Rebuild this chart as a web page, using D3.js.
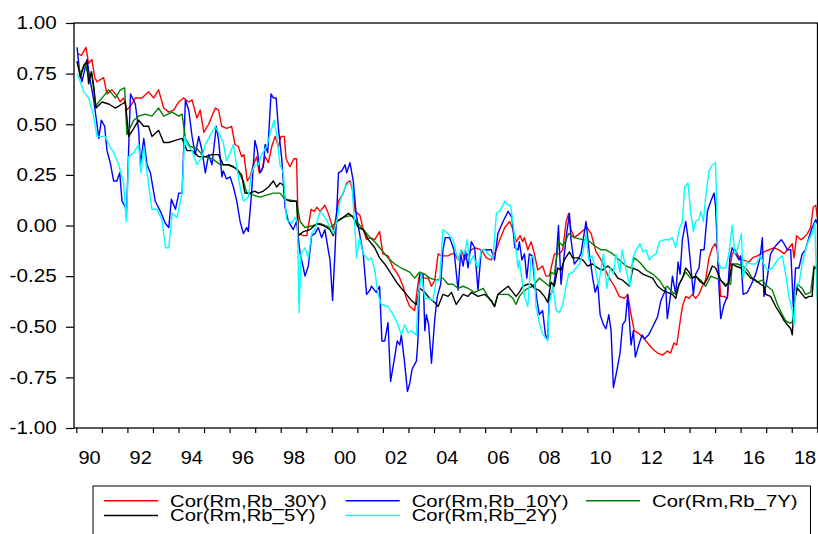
<!DOCTYPE html>
<html>
<head>
<meta charset="utf-8">
<script src="https://cdn.jsdelivr.net/npm/d3@7"></script>
<style>
    body { margin: 0; background: #fff; }
    svg { display: block; }
    text { font-family: "Liberation Sans", Arial, sans-serif; fill: #000; }
</style>
</head>
<body>
<div id="chart"></div>
<script>
// Rolling correlations as [year, value]
var cor30 = [[1990.03,0.85],[1990.2,0.84],[1990.38,0.88],[1990.48,0.80],[1990.61,0.82],[1990.72,0.73],[1990.81,0.71],[1991.07,0.73],[1991.2,0.65],[1991.4,0.67],[1991.59,0.64],[1991.72,0.61],[1991.85,0.63],[1991.98,0.57],[1992.12,0.59],[1992.31,0.63],[1992.57,0.63],[1992.83,0.66],[1993.03,0.63],[1993.22,0.67],[1993.42,0.58],[1993.62,0.56],[1993.81,0.57],[1994.01,0.61],[1994.2,0.63],[1994.4,0.61],[1994.53,0.62],[1994.72,0.53],[1994.85,0.57],[1994.99,0.46],[1995.18,0.50],[1995.44,0.58],[1995.57,0.57],[1995.69,0.49],[1995.89,0.48],[1996.08,0.49],[1996.21,0.40],[1996.34,0.39],[1996.47,0.34],[1996.56,0.35],[1996.69,0.22],[1996.8,0.24],[1996.93,0.30],[1997.06,0.34],[1997.16,0.26],[1997.25,0.27],[1997.39,0.34],[1997.52,0.31],[1997.65,0.39],[1997.78,0.44],[1997.91,0.39],[1998.01,0.44],[1998.14,0.44],[1998.21,0.33],[1998.36,0.29],[1998.52,0.33],[1998.62,0.33],[1998.69,-0.04],[1998.89,-0.05],[1999.02,-0.05],[1999.19,0.08],[1999.32,0.07],[1999.41,0.09],[1999.54,0.07],[1999.73,0.10],[1999.86,0.06],[2000.06,-0.02],[2000.13,0.02],[2000.26,0.12],[2000.45,0.16],[2000.58,0.21],[2000.71,0.22],[2000.82,0.17],[2000.91,0.07],[2001.1,0.05],[2001.23,-0.02],[2001.36,-0.07],[2001.5,-0.06],[2001.68,-0.07],[2001.87,-0.03],[2002.0,-0.14],[2002.2,-0.15],[2002.4,-0.21],[2002.53,-0.23],[2002.66,-0.26],[2002.79,-0.30],[2002.92,-0.36],[2003.05,-0.40],[2003.24,-0.42],[2003.37,-0.29],[2003.44,-0.24],[2003.57,-0.26],[2003.77,-0.26],[2003.9,-0.30],[2004.03,-0.27],[2004.16,-0.14],[2004.29,-0.15],[2004.55,-0.15],[2004.68,-0.14],[2004.81,-0.14],[2004.94,-0.17],[2005.07,-0.12],[2005.2,-0.17],[2005.33,-0.14],[2005.46,-0.12],[2005.59,-0.11],[2005.85,-0.12],[2006.05,-0.16],[2006.24,-0.17],[2006.44,-0.12],[2006.57,-0.07],[2006.77,-0.01],[2006.96,0.02],[2007.09,-0.02],[2007.22,-0.08],[2007.37,-0.05],[2007.47,-0.08],[2007.54,-0.06],[2007.67,-0.12],[2007.8,-0.08],[2007.93,-0.14],[2008.06,-0.22],[2008.25,-0.20],[2008.38,-0.25],[2008.51,-0.25],[2008.71,-0.14],[2008.91,-0.14],[2009.04,-0.12],[2009.17,0.02],[2009.27,0.06],[2009.36,-0.02],[2009.49,-0.06],[2009.69,-0.04],[2009.88,-0.02],[2009.99,-0.01],[2010.15,-0.04],[2010.34,-0.13],[2010.54,-0.17],[2010.67,-0.21],[2010.86,-0.26],[2011.06,-0.30],[2011.25,-0.35],[2011.45,-0.36],[2011.58,-0.34],[2011.71,-0.44],[2011.84,-0.52],[2011.97,-0.53],[2012.17,-0.55],[2012.36,-0.58],[2012.56,-0.61],[2012.75,-0.63],[2012.95,-0.64],[2013.13,-0.62],[2013.26,-0.63],[2013.39,-0.58],[2013.5,-0.59],[2013.59,-0.51],[2013.72,-0.40],[2013.85,-0.35],[2013.98,-0.36],[2014.11,-0.34],[2014.24,-0.36],[2014.37,-0.34],[2014.5,-0.30],[2014.63,-0.27],[2014.76,-0.16],[2014.89,-0.11],[2015.0,-0.09],[2015.09,-0.12],[2015.22,-0.35],[2015.35,-0.35],[2015.48,-0.36],[2015.58,-0.21],[2015.67,-0.14],[2015.8,-0.12],[2015.94,-0.16],[2016.07,-0.17],[2016.33,-0.18],[2016.46,-0.16],[2016.65,-0.15],[2016.91,-0.13],[2017.11,-0.12],[2017.31,-0.11],[2017.5,-0.12],[2017.7,-0.14],[2017.89,-0.11],[2018.02,-0.09],[2018.09,-0.16],[2018.19,-0.05],[2018.35,-0.07],[2018.48,-0.06],[2018.61,-0.04],[2018.74,-0.01],[2018.84,0.09],[2018.94,0.10],[2019.0,0.04]];

var cor10 = [[1990.03,0.88],[1990.12,0.77],[1990.22,0.71],[1990.42,0.82],[1990.55,0.71],[1990.68,0.62],[1990.81,0.50],[1990.88,0.43],[1990.98,0.52],[1991.11,0.49],[1991.2,0.37],[1991.33,0.31],[1991.46,0.22],[1991.59,0.22],[1991.7,0.26],[1991.79,0.12],[1991.92,0.09],[1991.96,0.04],[1992.12,0.65],[1992.31,0.60],[1992.44,0.47],[1992.51,0.30],[1992.64,0.43],[1992.77,0.30],[1992.9,0.26],[1993.09,0.12],[1993.29,0.07],[1993.49,0.01],[1993.62,-0.01],[1993.72,0.13],[1993.88,0.08],[1994.01,0.16],[1994.14,0.16],[1994.27,0.62],[1994.4,0.57],[1994.53,0.44],[1994.66,0.35],[1994.79,0.44],[1994.92,0.37],[1995.05,0.26],[1995.18,0.35],[1995.31,0.30],[1995.48,0.49],[1995.57,0.42],[1995.7,0.24],[1995.75,0.27],[1995.88,0.23],[1996.02,0.24],[1996.15,0.19],[1996.28,0.12],[1996.41,0.02],[1996.54,-0.04],[1996.67,-0.01],[1996.73,-0.03],[1996.86,0.16],[1996.99,0.42],[1997.09,0.37],[1997.19,0.26],[1997.32,0.29],[1997.39,0.40],[1997.49,0.36],[1997.62,0.65],[1997.71,0.63],[1997.82,0.63],[1997.91,0.48],[1998.04,0.33],[1998.17,0.09],[1998.3,0.02],[1998.49,-0.02],[1998.62,0.02],[1998.76,-0.14],[1998.89,-0.21],[1998.95,-0.25],[1999.08,-0.20],[1999.21,-0.05],[1999.34,-0.04],[1999.47,-0.01],[1999.6,-0.06],[1999.73,-0.02],[1999.86,-0.12],[1999.93,-0.17],[2000.03,-0.37],[2000.12,-0.14],[2000.26,0.26],[2000.39,0.27],[2000.52,0.30],[2000.58,0.26],[2000.71,0.31],[2000.84,0.22],[2000.95,0.06],[2001.1,-0.05],[2001.23,-0.14],[2001.36,-0.34],[2001.49,-0.32],[2001.55,-0.30],[2001.74,-0.33],[2001.87,-0.30],[2001.96,-0.57],[2002.07,-0.57],[2002.2,-0.48],[2002.3,-0.77],[2002.46,-0.65],[2002.56,-0.57],[2002.66,-0.59],[2002.72,-0.54],[2002.85,-0.68],[2002.96,-0.82],[2003.05,-0.78],[2003.14,-0.71],[2003.31,-0.67],[2003.37,-0.57],[2003.44,-0.24],[2003.57,-0.24],[2003.64,-0.52],[2003.7,-0.44],[2003.79,-0.49],[2003.9,-0.68],[2004.03,-0.46],[2004.13,-0.35],[2004.26,-0.29],[2004.35,-0.12],[2004.44,-0.06],[2004.61,-0.06],[2004.78,-0.12],[2004.94,-0.32],[2005.04,-0.14],[2005.14,-0.20],[2005.23,-0.12],[2005.33,-0.21],[2005.46,-0.08],[2005.59,-0.11],[2005.72,-0.32],[2005.85,-0.12],[2006.05,-0.12],[2006.24,-0.12],[2006.37,-0.17],[2006.5,-0.04],[2006.7,0.02],[2006.9,0.07],[2007.05,0.04],[2007.16,-0.11],[2007.29,-0.12],[2007.34,-0.08],[2007.44,-0.17],[2007.54,-0.14],[2007.63,-0.26],[2007.73,-0.14],[2007.84,-0.15],[2007.93,-0.27],[2008.02,-0.36],[2008.12,-0.44],[2008.25,-0.42],[2008.36,-0.54],[2008.45,-0.56],[2008.51,-0.35],[2008.65,-0.32],[2008.75,-0.24],[2008.87,0.00],[2008.97,-0.29],[2009.1,-0.14],[2009.19,-0.04],[2009.3,0.06],[2009.36,-0.07],[2009.49,-0.19],[2009.62,-0.17],[2009.75,-0.14],[2009.95,0.02],[2010.08,-0.14],[2010.21,-0.26],[2010.31,-0.33],[2010.41,-0.29],[2010.5,-0.44],[2010.63,-0.49],[2010.73,-0.51],[2010.84,-0.44],[2010.93,-0.52],[2011.02,-0.80],[2011.15,-0.72],[2011.28,-0.63],[2011.38,-0.49],[2011.49,-0.47],[2011.58,-0.34],[2011.71,-0.59],[2011.8,-0.52],[2011.88,-0.65],[2012.01,-0.59],[2012.14,-0.54],[2012.23,-0.56],[2012.4,-0.54],[2012.56,-0.50],[2012.75,-0.45],[2012.88,-0.37],[2013.02,-0.33],[2013.07,-0.31],[2013.13,-0.46],[2013.26,-0.34],[2013.33,-0.25],[2013.46,-0.34],[2013.55,-0.18],[2013.63,-0.24],[2013.72,-0.07],[2013.85,0.02],[2013.94,-0.06],[2014.04,-0.19],[2014.15,-0.34],[2014.24,-0.24],[2014.37,-0.21],[2014.44,-0.12],[2014.57,-0.12],[2014.7,0.07],[2014.83,0.12],[2014.96,0.16],[2015.02,0.09],[2015.15,-0.30],[2015.22,-0.46],[2015.35,-0.39],[2015.48,-0.35],[2015.58,-0.16],[2015.67,-0.11],[2015.8,-0.14],[2015.94,-0.17],[2016.0,-0.15],[2016.1,-0.34],[2016.26,-0.33],[2016.42,-0.29],[2016.59,-0.24],[2016.76,-0.16],[2016.85,-0.06],[2016.91,-0.35],[2017.04,-0.26],[2017.17,-0.14],[2017.37,-0.10],[2017.59,-0.07],[2017.7,-0.09],[2017.83,-0.12],[2017.96,-0.12],[2018.06,-0.40],[2018.15,-0.21],[2018.28,-0.21],[2018.41,-0.14],[2018.54,-0.12],[2018.67,-0.06],[2018.8,-0.01],[2018.94,0.03],[2019.0,0.01]];

var cor7 = [[1990.03,0.81],[1990.16,0.75],[1990.35,0.80],[1990.48,0.73],[1990.61,0.75],[1990.75,0.59],[1991.01,0.63],[1991.27,0.67],[1991.53,0.63],[1991.72,0.67],[1991.89,0.68],[1991.98,0.45],[1992.25,0.52],[1992.44,0.54],[1992.7,0.55],[1992.96,0.54],[1993.22,0.58],[1993.42,0.54],[1993.75,0.56],[1994.01,0.54],[1994.14,0.55],[1994.27,0.43],[1994.46,0.39],[1994.72,0.38],[1994.99,0.34],[1995.31,0.33],[1995.64,0.30],[1995.95,0.30],[1996.28,0.28],[1996.54,0.22],[1996.67,0.16],[1996.93,0.15],[1997.19,0.14],[1997.45,0.15],[1997.71,0.16],[1997.97,0.16],[1998.17,0.13],[1998.62,0.12],[1998.76,0.02],[1998.95,-0.01],[1999.28,0.00],[1999.54,0.01],[1999.93,-0.01],[2000.12,0.01],[2000.45,0.04],[2000.78,0.05],[2000.97,0.02],[2001.23,-0.02],[2001.5,-0.06],[2001.68,-0.08],[2001.94,-0.12],[2002.2,-0.16],[2002.46,-0.19],[2002.72,-0.21],[2003.05,-0.23],[2003.24,-0.26],[2003.44,-0.23],[2003.64,-0.24],[2003.83,-0.26],[2004.09,-0.27],[2004.35,-0.26],[2004.55,-0.29],[2004.74,-0.29],[2004.94,-0.31],[2005.14,-0.30],[2005.33,-0.31],[2005.59,-0.33],[2005.92,-0.31],[2006.11,-0.35],[2006.37,-0.40],[2006.5,-0.34],[2006.77,-0.34],[2006.9,-0.34],[2007.09,-0.36],[2007.21,-0.39],[2007.34,-0.35],[2007.47,-0.33],[2007.67,-0.31],[2007.86,-0.30],[2007.99,-0.28],[2008.12,-0.26],[2008.32,-0.28],[2008.51,-0.30],[2008.58,-0.23],[2008.71,-0.24],[2008.88,-0.08],[2009.04,-0.10],[2009.17,-0.07],[2009.27,-0.04],[2009.49,-0.06],[2009.82,-0.07],[2010.01,-0.07],[2010.28,-0.10],[2010.54,-0.12],[2010.73,-0.12],[2010.99,-0.14],[2011.25,-0.17],[2011.52,-0.20],[2011.71,-0.21],[2011.84,-0.16],[2012.04,-0.18],[2012.3,-0.22],[2012.56,-0.24],[2012.82,-0.27],[2013.02,-0.31],[2013.13,-0.30],[2013.33,-0.33],[2013.46,-0.34],[2013.59,-0.29],[2013.72,-0.26],[2013.85,-0.23],[2014.04,-0.26],[2014.24,-0.25],[2014.44,-0.27],[2014.63,-0.30],[2014.83,-0.25],[2015.02,-0.26],[2015.22,-0.27],[2015.41,-0.29],[2015.61,-0.29],[2015.67,-0.19],[2015.87,-0.19],[2016.07,-0.20],[2016.26,-0.22],[2016.46,-0.26],[2016.65,-0.28],[2016.85,-0.27],[2017.04,-0.30],[2017.24,-0.32],[2017.44,-0.39],[2017.63,-0.44],[2017.76,-0.47],[2017.89,-0.48],[2018.02,-0.48],[2018.11,-0.37],[2018.22,-0.29],[2018.41,-0.31],[2018.54,-0.34],[2018.74,-0.33],[2018.87,-0.20],[2018.98,-0.21]];

var cor5 = [[1990.03,0.81],[1990.16,0.73],[1990.29,0.79],[1990.42,0.81],[1990.48,0.70],[1990.59,0.76],[1990.68,0.69],[1990.77,0.58],[1991.01,0.61],[1991.27,0.60],[1991.53,0.58],[1991.79,0.60],[1991.92,0.61],[1992.05,0.44],[1992.25,0.48],[1992.44,0.52],[1992.64,0.49],[1992.83,0.49],[1992.96,0.44],[1993.22,0.47],[1993.42,0.41],[1993.62,0.41],[1993.88,0.42],[1994.14,0.43],[1994.33,0.37],[1994.53,0.37],[1994.79,0.34],[1995.05,0.34],[1995.31,0.35],[1995.57,0.35],[1995.75,0.30],[1995.95,0.30],[1996.15,0.29],[1996.34,0.27],[1996.47,0.25],[1996.6,0.16],[1996.8,0.16],[1996.99,0.17],[1997.12,0.16],[1997.32,0.17],[1997.52,0.19],[1997.71,0.22],[1997.84,0.19],[1997.97,0.21],[1998.1,0.20],[1998.17,0.13],[1998.36,0.12],[1998.62,0.12],[1998.69,-0.05],[1998.89,-0.03],[1999.15,-0.02],[1999.41,0.01],[1999.67,0.00],[1999.93,-0.02],[2000.06,-0.05],[2000.19,0.02],[2000.45,0.04],[2000.65,0.06],[2000.84,0.04],[2001.04,-0.01],[2001.23,-0.02],[2001.43,-0.07],[2001.68,-0.11],[2001.87,-0.16],[2002.07,-0.19],[2002.33,-0.24],[2002.53,-0.28],[2002.72,-0.31],[2002.92,-0.34],[2003.11,-0.37],[2003.31,-0.39],[2003.44,-0.31],[2003.64,-0.33],[2003.83,-0.36],[2004.03,-0.38],[2004.16,-0.40],[2004.35,-0.34],[2004.55,-0.35],[2004.68,-0.33],[2004.87,-0.39],[2005.14,-0.34],[2005.33,-0.35],[2005.46,-0.33],[2005.72,-0.35],[2005.98,-0.34],[2006.24,-0.37],[2006.37,-0.40],[2006.5,-0.34],[2006.7,-0.32],[2006.9,-0.30],[2007.09,-0.33],[2007.21,-0.35],[2007.34,-0.33],[2007.47,-0.30],[2007.67,-0.29],[2007.8,-0.29],[2007.93,-0.31],[2008.12,-0.32],[2008.32,-0.35],[2008.45,-0.38],[2008.58,-0.28],[2008.71,-0.30],[2008.84,-0.21],[2008.97,-0.22],[2009.1,-0.17],[2009.3,-0.13],[2009.43,-0.16],[2009.62,-0.16],[2009.82,-0.17],[2010.01,-0.20],[2010.21,-0.19],[2010.41,-0.21],[2010.6,-0.22],[2010.8,-0.20],[2010.99,-0.22],[2011.19,-0.26],[2011.38,-0.27],[2011.65,-0.30],[2011.78,-0.21],[2011.97,-0.22],[2012.17,-0.24],[2012.36,-0.25],[2012.56,-0.26],[2012.75,-0.30],[2012.95,-0.32],[2013.13,-0.33],[2013.33,-0.34],[2013.46,-0.36],[2013.59,-0.29],[2013.72,-0.26],[2013.85,-0.21],[2013.98,-0.23],[2014.11,-0.26],[2014.24,-0.25],[2014.44,-0.28],[2014.57,-0.29],[2014.7,-0.26],[2014.89,-0.20],[2015.02,-0.21],[2015.22,-0.27],[2015.41,-0.30],[2015.54,-0.28],[2015.67,-0.19],[2015.8,-0.20],[2016.0,-0.21],[2016.2,-0.23],[2016.39,-0.26],[2016.59,-0.27],[2016.78,-0.29],[2016.91,-0.30],[2016.98,-0.34],[2017.17,-0.35],[2017.37,-0.40],[2017.57,-0.44],[2017.7,-0.47],[2017.83,-0.49],[2017.96,-0.51],[2018.02,-0.54],[2018.11,-0.37],[2018.22,-0.31],[2018.35,-0.33],[2018.54,-0.36],[2018.67,-0.35],[2018.8,-0.35],[2018.87,-0.21],[2018.98,-0.21]];

var cor2 = [[1990.03,0.75],[1990.16,0.71],[1990.29,0.66],[1990.48,0.63],[1990.68,0.54],[1990.81,0.44],[1991.01,0.44],[1991.14,0.44],[1991.27,0.40],[1991.46,0.36],[1991.66,0.30],[1991.85,0.21],[1991.96,0.02],[1992.05,0.34],[1992.25,0.36],[1992.44,0.40],[1992.53,0.26],[1992.64,0.39],[1992.77,0.26],[1992.96,0.08],[1993.16,0.08],[1993.35,0.03],[1993.49,-0.11],[1993.62,-0.11],[1993.75,0.06],[1993.94,0.04],[1994.14,0.16],[1994.24,0.44],[1994.33,0.40],[1994.53,0.37],[1994.72,0.30],[1994.92,0.34],[1995.05,0.40],[1995.18,0.43],[1995.44,0.49],[1995.64,0.44],[1995.75,0.41],[1995.88,0.32],[1996.02,0.36],[1996.15,0.40],[1996.28,0.29],[1996.41,0.19],[1996.54,0.12],[1996.73,0.14],[1996.86,0.26],[1996.99,0.30],[1997.12,0.30],[1997.25,0.35],[1997.45,0.39],[1997.58,0.45],[1997.74,0.52],[1997.84,0.45],[1997.97,0.30],[1998.1,0.26],[1998.23,0.03],[1998.43,0.01],[1998.56,0.04],[1998.65,0.02],[1998.72,-0.43],[1998.79,-0.14],[1998.95,-0.11],[1999.08,-0.16],[1999.21,-0.04],[1999.34,-0.02],[1999.54,0.07],[1999.73,0.04],[1999.86,0.01],[2000.06,-0.04],[2000.19,0.02],[2000.32,0.12],[2000.52,0.19],[2000.65,0.21],[2000.78,0.21],[2000.91,-0.02],[2000.97,-0.16],[2001.08,-0.06],[2001.23,-0.14],[2001.43,-0.17],[2001.55,-0.16],[2001.68,-0.22],[2001.81,-0.34],[2001.94,-0.39],[2002.2,-0.40],[2002.4,-0.44],[2002.59,-0.49],[2002.72,-0.54],[2002.85,-0.49],[2002.98,-0.53],[2003.11,-0.52],[2003.31,-0.54],[2003.37,-0.37],[2003.5,-0.24],[2003.64,-0.36],[2003.83,-0.36],[2003.96,-0.37],[2004.09,-0.27],[2004.22,-0.27],[2004.35,-0.02],[2004.55,-0.04],[2004.74,-0.07],[2004.84,-0.12],[2004.94,-0.17],[2005.07,-0.12],[2005.2,-0.14],[2005.3,-0.07],[2005.4,-0.19],[2005.53,-0.15],[2005.72,-0.21],[2005.85,-0.12],[2005.98,-0.12],[2006.11,-0.14],[2006.31,-0.16],[2006.44,0.06],[2006.57,0.07],[2006.77,0.12],[2006.9,0.10],[2007.0,0.10],[2007.16,-0.06],[2007.29,-0.21],[2007.34,-0.17],[2007.41,-0.24],[2007.54,-0.35],[2007.67,-0.40],[2007.8,-0.16],[2007.89,-0.15],[2007.99,-0.40],[2008.12,-0.48],[2008.23,-0.53],[2008.38,-0.56],[2008.45,-0.57],[2008.51,-0.39],[2008.65,-0.30],[2008.78,-0.42],[2008.91,-0.43],[2009.04,-0.39],[2009.17,-0.30],[2009.27,-0.24],[2009.43,-0.23],[2009.69,-0.19],[2009.82,-0.14],[2009.95,-0.04],[2010.05,-0.17],[2010.18,-0.15],[2010.31,-0.21],[2010.44,-0.30],[2010.54,-0.21],[2010.63,-0.14],[2010.76,-0.31],[2010.89,-0.21],[2011.02,-0.24],[2011.12,-0.14],[2011.28,-0.23],[2011.36,-0.12],[2011.52,-0.22],[2011.67,-0.30],[2011.78,-0.16],[2011.91,-0.12],[2012.06,-0.09],[2012.17,-0.13],[2012.3,-0.12],[2012.43,-0.17],[2012.56,-0.15],[2012.69,-0.14],[2012.82,-0.08],[2013.02,-0.07],[2013.2,-0.07],[2013.33,-0.06],[2013.46,-0.11],[2013.59,-0.02],[2013.72,0.02],[2013.81,0.19],[2013.94,0.21],[2014.04,0.07],[2014.15,-0.03],[2014.24,0.02],[2014.37,0.03],[2014.44,0.07],[2014.54,0.02],[2014.63,0.14],[2014.76,0.27],[2014.89,0.30],[2015.02,0.31],[2015.11,-0.17],[2015.22,-0.21],[2015.41,-0.21],[2015.54,-0.14],[2015.67,0.00],[2015.77,-0.14],[2015.87,-0.12],[2016.03,-0.04],[2016.1,-0.26],[2016.24,-0.18],[2016.42,-0.19],[2016.59,-0.19],[2016.78,-0.15],[2016.91,-0.19],[2017.04,-0.22],[2017.24,-0.21],[2017.44,-0.17],[2017.63,-0.15],[2017.76,-0.24],[2017.89,-0.35],[2018.02,-0.42],[2018.09,-0.49],[2018.15,-0.30],[2018.28,-0.29],[2018.41,-0.19],[2018.54,-0.12],[2018.67,-0.07],[2018.8,-0.04],[2018.9,0.01],[2019.0,-0.37]];

var seriesNames = ["Cor(Rm,Rb_30Y)", "Cor(Rm,Rb_10Y)", "Cor(Rm,Rb_7Y)", "Cor(Rm,Rb_5Y)", "Cor(Rm,Rb_2Y)"];
var seriesColors = ["#ff0000", "#0000ff", "#008000", "#000000", "#00ffff"];
var seriesData = [cor30, cor10, cor7, cor5, cor2];

var yTicks = [-1, -0.75, -0.5, -0.25, 0, 0.25, 0.5, 0.75, 1];
var yearTicks = d3.range(1990, 2020);
var xLabelYears = [1990, 1992, 1994, 1996, 1998, 2000, 2002, 2004, 2006, 2008, 2010, 2012, 2014, 2016, 2018];
var xLabels = ["90", "92", "94", "96", "98", "00", "02", "04", "06", "08", "10", "12", "14", "16", "18"];

var width = 818, height = 534;
// plot frame
var frame = {left: 74, right: 817.5, top: 23, bottom: 428};

var svg = d3.select("#chart").append("svg")
    .attr("width", width)
    .attr("height", height);

var x = d3.scaleLinear().domain([1990, 2019]).range([76.3, 817.3]);
var y = d3.scaleLinear().domain([-1, 1]).range([frame.bottom, frame.top]);

// plain hyphen for negatives, like the original
var fmt = d3.format(".2f");
function yFormat(d) { return fmt(d).replace("\u2212", "-"); }

// y axis (ticks outside, frame drawn separately)
var yAxis = svg.append("g")
    .attr("transform", "translate(" + frame.left + ",0)")
    .call(d3.axisLeft(y).tickValues(yTicks).tickFormat(yFormat).tickSize(8).tickPadding(7));
yAxis.select(".domain").remove();
yAxis.selectAll(".tick line").attr("stroke", "#000").attr("stroke-width", 1.2);
yAxis.selectAll(".tick text")
    .style("font-size", "18px")
    .attr("transform", "scale(1.15,1)");

// year ticks along the bottom
var xAxis = svg.append("g")
    .attr("transform", "translate(0," + frame.bottom + ")")
    .call(d3.axisBottom(x).tickValues(yearTicks).tickFormat("").tickSize(5));
xAxis.select(".domain").remove();
xAxis.selectAll(".tick line").attr("stroke", "#000").attr("stroke-width", 1.2);

// labels sit in the middle of each labelled year
var xLab = svg.append("g")
    .attr("transform", "translate(0," + frame.bottom + ")")
    .call(d3.axisBottom(x)
        .tickValues(xLabelYears.map(function(d) { return d + 0.5; }))
        .tickFormat(function(d, i) { return xLabels[i]; })
        .tickSize(0).tickPadding(23));
xLab.select(".domain").remove();
xLab.selectAll(".tick text")
    .style("font-size", "19px")
    .attr("transform", "scale(1.05,1)");

var line = d3.line()
    .x(function(d) { return x(d[0]); })
    .y(function(d) { return y(d[1]); });

svg.append("g").selectAll("path")
    .data(seriesData)
    .enter().append("path")
    .attr("d", line)
    .attr("fill", "none")
    .attr("stroke", function(d, i) { return seriesColors[i]; })
    .attr("stroke-width", 1.4)
    .attr("stroke-linejoin", "round");

svg.append("rect")
    .attr("x", frame.left)
    .attr("y", frame.top)
    .attr("width", frame.right - frame.left)
    .attr("height", frame.bottom - frame.top)
    .attr("fill", "none")
    .attr("stroke", "#000")
    .attr("stroke-width", 1.3);

// Legend: three columns, two rows
var legend = svg.append("g");
legend.append("rect")
    .attr("x", 93).attr("y", 486)
    .attr("width", 717.5).attr("height", 60)
    .attr("fill", "none")
    .attr("stroke", "#000")
    .attr("stroke-width", 1);

var colX = [104, 345.7, 586];
var rowY = [500.7, 515.5];
seriesNames.forEach(function(name, i) {
    var cx = colX[i % 3], cy = rowY[Math.floor(i / 3)];
    legend.append("line")
        .attr("x1", cx).attr("x2", cx + 54)
        .attr("y1", cy).attr("y2", cy)
        .attr("stroke", seriesColors[i])
        .attr("stroke-width", 1.4);
    legend.append("text")
        .attr("transform", "translate(" + (cx + 66) + "," + (cy + 5.8) + ") scale(1.27,1)")
        .style("font-size", "16px")
        .text(name);
});
</script>
</body>
</html>
